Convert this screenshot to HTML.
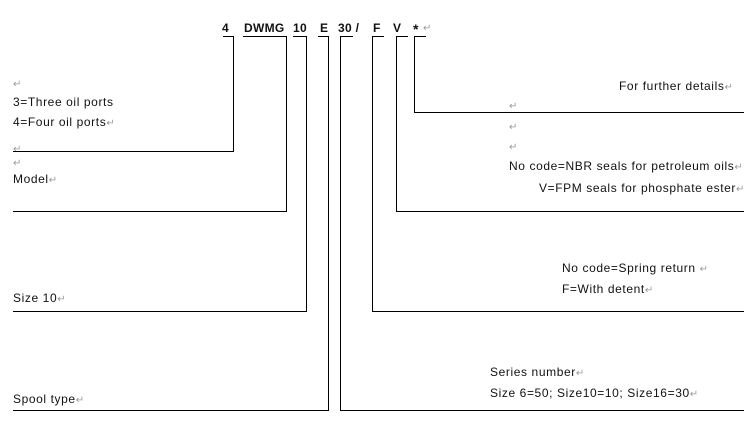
<!DOCTYPE html>
<html><head><meta charset="utf-8"><style>
html,body{margin:0;padding:0;background:#fff;width:754px;height:429px;overflow:hidden}
svg{display:block}
text{font-family:"Liberation Sans",Arial,sans-serif;font-size:12px;fill:#111;letter-spacing:0.6px}
.b{font-weight:bold;font-size:12px;letter-spacing:0.3px}
.g{fill:#999;font-size:10px;letter-spacing:0}
</style></head><body>
<svg width="754" height="429" viewBox="0 0 754 429" xmlns="http://www.w3.org/2000/svg">
<g stroke="#000" stroke-width="1" fill="none" shape-rendering="crispEdges">
<polyline points="223,36.5 233.5,36.5 233.5,151.5 13,151.5"/>
<polyline points="243,36.5 286.5,36.5 286.5,211.5 13,211.5"/>
<polyline points="293,36.5 306.5,36.5 306.5,311.5 13,311.5"/>
<polyline points="318,36.5 328.5,36.5 328.5,410.5 13,410.5"/>
<polyline points="353,36.5 340.5,36.5 340.5,410.5 744,410.5"/>
<polyline points="384,36.5 372.5,36.5 372.5,311.5 744,311.5"/>
<polyline points="408,36.5 396.5,36.5 396.5,211.5 744,211.5"/>
<polyline points="426,36.5 414.5,36.5 414.5,112.5 744,112.5"/>
</g>
<text class="b" x="222" y="32">4</text>
<text class="b" x="244" y="32">DWMG</text>
<text class="b" x="293" y="32">10</text>
<text class="b" x="320" y="32">E</text>
<text class="b" x="338" y="32">30 /</text>
<text class="b" x="373" y="32">F</text>
<text class="b" x="393" y="32">V</text>
<text class="b" x="413" y="34" style="font-size:14px">*</text><text class="g" x="423" y="31">↵</text>

<text class="g" x="13" y="87">↵</text>
<text x="13" y="106">3=Three oil ports</text>
<text x="13" y="126">4=Four oil ports<tspan class="g">↵</tspan></text>
<text class="g" x="13" y="152">↵</text>
<text class="g" x="13" y="166">↵</text>
<text x="13" y="183">Model<tspan class="g">↵</tspan></text>
<text x="13" y="302">Size 10<tspan class="g">↵</tspan></text>
<text x="13" y="403">Spool type<tspan class="g">↵</tspan></text>

<text x="619" y="90">For further details<tspan class="g">↵</tspan></text>
<text class="g" x="509" y="109">↵</text>
<text class="g" x="509" y="130">↵</text>
<text class="g" x="509" y="150">↵</text>
<text x="509" y="170">No code=NBR seals for petroleum oils<tspan class="g">↵</tspan></text>
<text x="539" y="192">V=FPM seals for phosphate ester<tspan class="g">↵</tspan></text>
<text x="562" y="272">No code=Spring return <tspan class="g"> ↵</tspan></text>
<text x="562" y="293">F=With detent<tspan class="g">↵</tspan></text>
<text x="490" y="376">Series number<tspan class="g">↵</tspan></text>
<text x="490" y="397">Size 6=50; Size10=10; Size16=30<tspan class="g">↵</tspan></text>
</svg>
</body></html>
